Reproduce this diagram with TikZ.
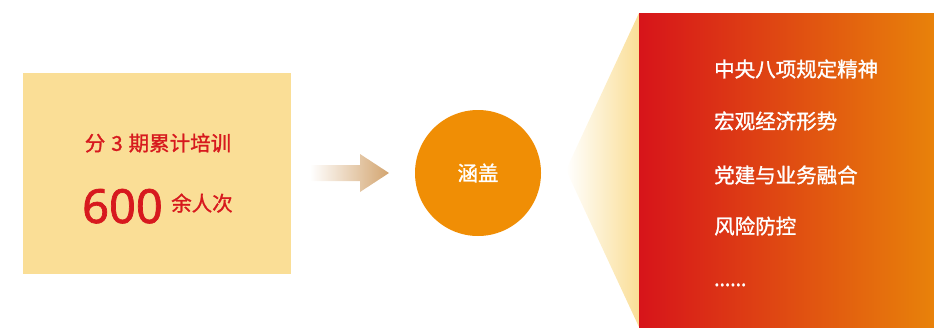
\documentclass[tikz,border=0pt]{standalone}
\usepackage{fontspec}
\setmainfont{Noto Sans CJK SC}[AutoFakeBold=1.2]
\newfontfamily\numfont{Noto Sans}[AutoFakeBold=1.5]
\definecolor{boxyellow}{HTML}{FADE96}
\definecolor{txtred}{HTML}{D7191E}
\definecolor{circorange}{HTML}{F08E05}
\definecolor{arrowtan}{HTML}{D3A570}
\definecolor{panelred}{HTML}{D7141A}
\definecolor{panelorange}{HTML}{E8820A}
\tikzset{
  redtxt/.style={text=txtred, inner sep=0pt},
  itemtxt/.style={text=white, anchor=west, inner sep=0pt, font=\bfseries\fontsize{20.5}{20.5}\selectfont},
}
\begin{document}
\begin{tikzpicture}[x=1pt,y=-1pt]
\useasboundingbox (0,0) rectangle (934,327);
% left box
\fill[boxyellow] (23,73) rectangle (291,274);
\node[redtxt, font=\bfseries\fontsize{20.5}{20.5}\selectfont] (title) at (158,143) {分\hspace{6pt}3\hspace{6pt}期累计培训};
\node[redtxt, anchor=base east, font=\numfont\bfseries\fontsize{47}{47}\selectfont] (num) at (163,223) {600};
\node[redtxt, anchor=base west, font=\bfseries\fontsize{20.5}{20.5}\selectfont] (unit) at (171,211) {余人次};
% arrow
\shade[left color=white, right color=arrowtan]
  (310,165) -- (360,165) -- (360,154) -- (389,173) -- (360,192) -- (360,181) -- (310,181) -- cycle;
% circle
\node[circle, fill=circorange, minimum size=126pt, inner sep=0pt, text=white,
  font=\bfseries\fontsize{20.5}{20.5}\selectfont] (cover) at (478,173) {涵盖};
% fan
\shade[left color=white, right color=boxyellow] (566,170) -- (639,13) -- (639,327) -- cycle;
% panel
\shade[left color=panelred, right color=panelorange] (639,13) rectangle (934,327);
\node[itemtxt] (i1) at (714,69) {中央八项规定精神};
\node[itemtxt] (i2) at (714,121) {宏观经济形势};
\node[itemtxt] (i3) at (714,175) {党建与业务融合};
\node[itemtxt] (i4) at (714,226) {风险防控};
\node[itemtxt, anchor=base west, font=\numfont\bfseries\fontsize{20}{20}\selectfont] (i5) at (714,286) {......};
\end{tikzpicture}
\end{document}
